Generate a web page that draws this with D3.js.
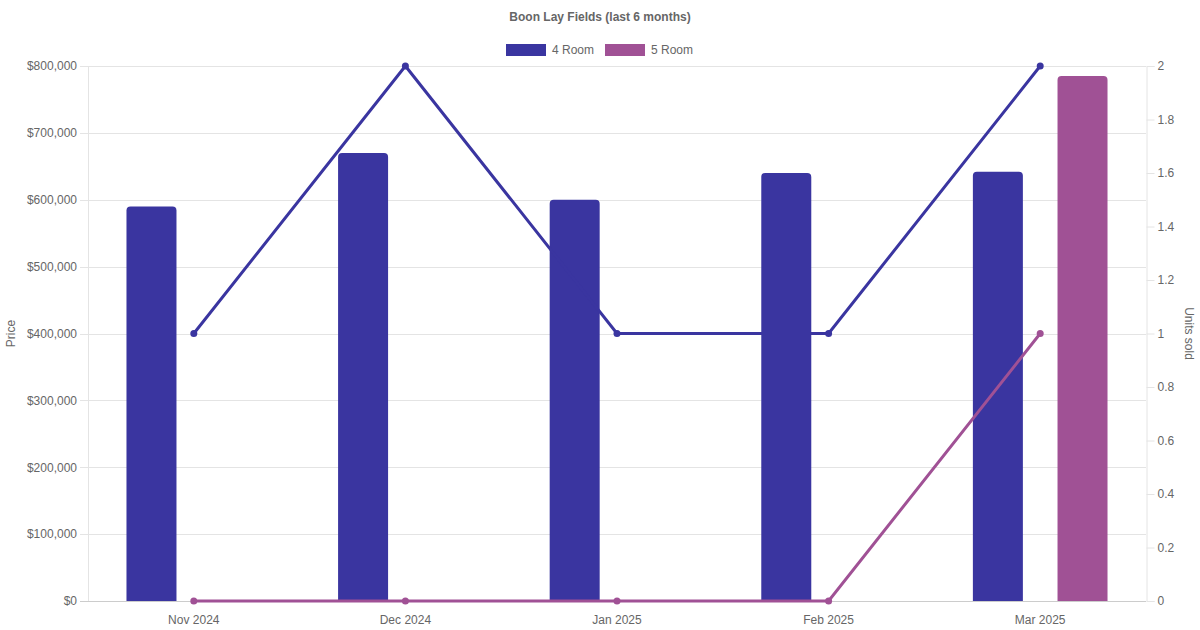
<!DOCTYPE html>
<html>
<head>
<meta charset="utf-8">
<script src="https://cdn.jsdelivr.net/npm/d3@7"></script>
<style>
  body { margin: 0; background: #fff; }
  svg { display: block; font-family: "Liberation Sans", Arial, sans-serif; }
</style>
</head>
<body>
<div id="chart"></div>
<script>
// chart data
var months = ["Nov 2024", "Dec 2024", "Jan 2025", "Feb 2025", "Mar 2025"];
var price4 = [590000, 670000, 600000, 640000, 642000];
var price5 = [null, null, null, null, 785000];
var units4 = [1, 2, 1, 1, 2];
var units5 = [0, 0, 0, 0, 1];
var priceTicks = [0, 100000, 200000, 300000, 400000, 500000, 600000, 700000, 800000];
var unitTicks = [0, 0.2, 0.4, 0.6, 0.8, 1, 1.2, 1.4, 1.6, 1.8, 2];

var series = [
    { name: "4 Room", color: "#3a35a0", price: price4, units: units4 },
    { name: "5 Room", color: "#a05195", price: price5, units: units5 }
];

let width = 1200;
let height = 630;
let plotLeft = 88, plotRight = 1146, plotTop = 66, plotBottom = 601;
let textColor = "#666";
let gridColor = "#e4e4e4";

let svg = d3.select('#chart')
    .append('svg')
    .attr("width", width)
    .attr("height", height);

let xScale = d3.scaleBand()
    .domain(months)
    .range([plotLeft, plotRight]);

let subScale = d3.scaleBand()
    .domain(series.map(s => s.name))
    .range([0, xScale.bandwidth()])
    .paddingInner(0)
    .paddingOuter(0.25);

let yPrice = d3.scaleLinear()
    .domain([0, 800000])
    .range([plotBottom, plotTop]);

let yUnits = d3.scaleLinear()
    .domain([0, 2])
    .range([plotBottom, plotTop]);

// gridlines
svg.append('g')
    .selectAll('line')
    .data(priceTicks)
    .enter()
    .append('line')
    .attr('x1', plotLeft - 8)
    .attr('x2', plotRight)
    .attr('y1', d => Math.round(yPrice(d)) + 0.5)
    .attr('y2', d => Math.round(yPrice(d)) + 0.5)
    .attr('stroke', d => d === 0 ? "#ccc" : gridColor)
    .attr('stroke-width', 1);

// left border
svg.append('line')
    .attr('x1', plotLeft + 0.5).attr('x2', plotLeft + 0.5)
    .attr('y1', plotTop).attr('y2', plotBottom)
    .attr('stroke', gridColor);

// right axis
let rightAxis = d3.axisRight(yUnits)
    .tickValues(unitTicks)
    .tickSize(8)
    .tickPadding(3)
    .tickFormat(d => d3.format("~g")(d));

let ra = svg.append('g')
    .attr('transform', `translate(${plotRight + 0.5},0)`)
    .call(rightAxis);
ra.select('.domain').attr('stroke', gridColor);
ra.selectAll('.tick line').attr('stroke', gridColor);
ra.selectAll('.tick text')
    .attr('fill', textColor)
    .style('font-size', '12px')
    .style('font-family', '"Liberation Sans", Arial, sans-serif');

// left axis
let leftAxis = d3.axisLeft(yPrice)
    .tickValues(priceTicks)
    .tickSize(0)
    .tickPadding(11)
    .tickFormat(d => "$" + d3.format(",")(d));

let la = svg.append('g')
    .attr('transform', `translate(${plotLeft},0)`)
    .call(leftAxis);
la.select('.domain').remove();
la.selectAll('.tick text')
    .attr('fill', textColor)
    .style('font-size', '12px')
    .style('font-family', '"Liberation Sans", Arial, sans-serif');

// bottom labels
svg.append('g')
    .selectAll('text')
    .data(months)
    .enter()
    .append('text')
    .attr('x', d => xScale(d) + xScale.bandwidth() / 2)
    .attr('y', 624)
    .attr('text-anchor', 'middle')
    .attr('fill', textColor)
    .style('font-size', '12px')
    .text(d => d);

// bars
let barWidth = 50;
series.forEach(s => {
    svg.append('g')
        .selectAll('path')
        .data(months.map((m, i) => ({ m: m, v: s.price[i] })).filter(d => d.v != null))
        .enter()
        .append('path')
        .attr('fill', s.color)
        .attr('d', d => {
            let cx = xScale(d.m) + subScale(s.name) + subScale.bandwidth() / 2;
            let x0 = cx - barWidth / 2, x1 = cx + barWidth / 2;
            let y0 = yPrice(d.v), y1 = yPrice(0);
            let r = 4;
            return `M${x0},${y1} L${x0},${y0 + r} Q${x0},${y0} ${x0 + r},${y0}`
                + ` L${x1 - r},${y0} Q${x1},${y0} ${x1},${y0 + r} L${x1},${y1} Z`;
        });
});

// lines
let line = d3.line()
    .x((d, i) => xScale(months[i]) + xScale.bandwidth() / 2)
    .y(d => yUnits(d));

series.slice().reverse().forEach(s => {
    svg.append('path')
        .datum(s.units)
        .attr('fill', 'none')
        .attr('stroke', s.color)
        .attr('stroke-width', 3)
        .attr('d', line);

    svg.append('g')
        .selectAll('circle')
        .data(s.units)
        .enter()
        .append('circle')
        .attr('cx', (d, i) => xScale(months[i]) + xScale.bandwidth() / 2)
        .attr('cy', d => yUnits(d))
        .attr('r', 3.5)
        .attr('fill', s.color);
});

// axis titles
svg.append('text')
    .attr('transform', `translate(15,${(plotTop + plotBottom) / 2}) rotate(-90)`)
    .attr('text-anchor', 'middle')
    .attr('fill', textColor)
    .style('font-size', '12px')
    .text("Price");

svg.append('text')
    .attr('transform', `translate(1185,${(plotTop + plotBottom) / 2}) rotate(90)`)
    .attr('text-anchor', 'middle')
    .attr('fill', textColor)
    .style('font-size', '12px')
    .text("Units sold");

// title
svg.append('text')
    .attr('x', 600)
    .attr('y', 21)
    .attr('text-anchor', 'middle')
    .attr('fill', textColor)
    .style('font-size', '12px')
    .style('font-weight', 'bold')
    .text("Boon Lay Fields (last 6 months)");

// legend
let legendX = [506, 605];
let legend = svg.append('g')
    .selectAll('g')
    .data(series)
    .enter()
    .append('g')
    .attr('transform', (d, i) => `translate(${legendX[i]},44)`);

legend.append('rect')
    .attr('width', 40)
    .attr('height', 12)
    .attr('fill', d => d.color);

legend.append('text')
    .attr('x', 46)
    .attr('y', 10)
    .attr('fill', textColor)
    .style('font-size', '12px')
    .text(d => d.name);
</script>
</body>
</html>
